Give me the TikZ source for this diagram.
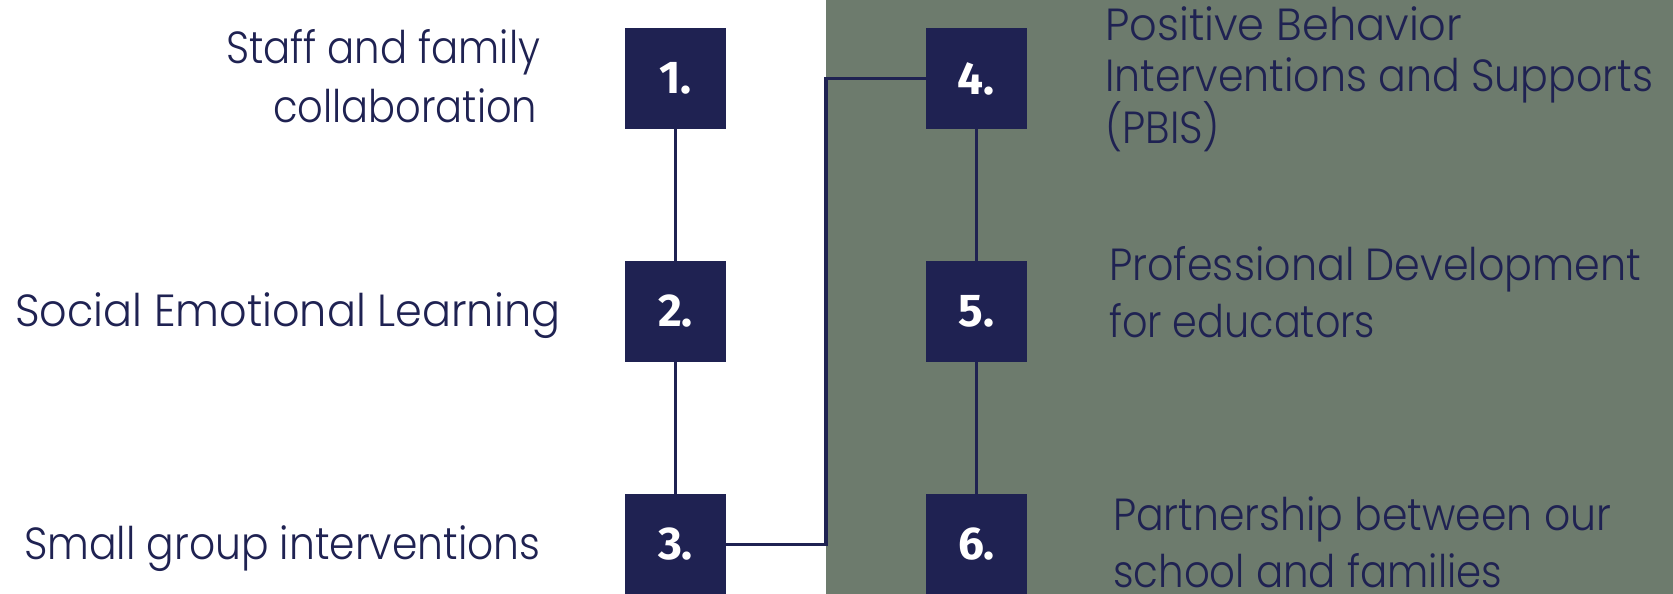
\documentclass[tikz,border=0pt]{standalone}
\usepackage{fontspec}
\usepackage{graphicx}
\setmainfont{Poppins Light}
\newfontfamily\numfont{Fira Sans}
\definecolor{navy}{HTML}{1F2252}
\definecolor{sage}{HTML}{6D7B6D}
\newcommand\fitw[2]{\resizebox{#1pt}{\height}{#2}}
\begin{document}
\begin{tikzpicture}[x=1pt,y=-1pt,
  numbox/.style={fill=navy, minimum size=101pt, inner sep=0pt, text=white,
    font=\numfont\bfseries\fontsize{46}{46}\selectfont},
  lbl/.style={text=navy, inner sep=0pt, font=\fontsize{45}{55}\selectfont},
  conn/.style={draw=navy, line width=3.5pt}]
\useasboundingbox (0,0) rectangle (1673,594);
\fill[white] (0,0) rectangle (1673,594);
\fill[sage] (826,0) rectangle (1673,594);
% boxes
\node[numbox] (b1) at (675.5,78.5) {1.};
\node[numbox] (b2) at (675.5,311.5) {2.};
\node[numbox] (b3) at (675.5,544.5) {3.};
\node[numbox] (b4) at (976.5,78.5) {4.};
\node[numbox] (b5) at (976.5,311.5) {5.};
\node[numbox] (b6) at (976.5,544.5) {6.};
% connectors
\coordinate (cb) at (826,544.5);
\coordinate (ct) at (826,78.5);
\draw[conn] (b1) -- (b2);
\draw[conn] (b2) -- (b3);
\draw[conn] (b4) -- (b5);
\draw[conn] (b5) -- (b6);
\draw[conn] (b3.east) -- (cb) -- (ct) -- (b4.west);
% left labels
\node[lbl, anchor=base west] (l1a) at (226,64) {\fitw{314}{Staff and family}};
\node[lbl, anchor=base west] (l1b) at (273,122) {\fitw{264}{collaboration}};
\node[lbl, anchor=base west] (l2) at (15,326) {\fitw{545}{Social Emotional Learning}};
\node[lbl, anchor=base west] (l3) at (24,559) {\fitw{516}{Small group interventions}};
% right labels
\node[lbl, anchor=base west] (r4a) at (1105,41) {\fitw{357}{Positive Behavior}};
\node[lbl, anchor=base west] (r4b) at (1105,92) {\fitw{548}{Interventions and Supports}};
\node[lbl, anchor=base west] (r4c) at (1105,143) {\fitw{115}{(PBIS)}};
\node[lbl, anchor=base west] (r5a) at (1109,280) {\fitw{532}{Professional Development}};
\node[lbl, anchor=base west] (r5b) at (1109,337) {\fitw{266}{for educators}};
\node[lbl, anchor=base west] (r6a) at (1113,530) {\fitw{498}{Partnership between our}};
\node[lbl, anchor=base west] (r6b) at (1113,587) {\fitw{389}{school and families}};
\end{tikzpicture}
\end{document}
